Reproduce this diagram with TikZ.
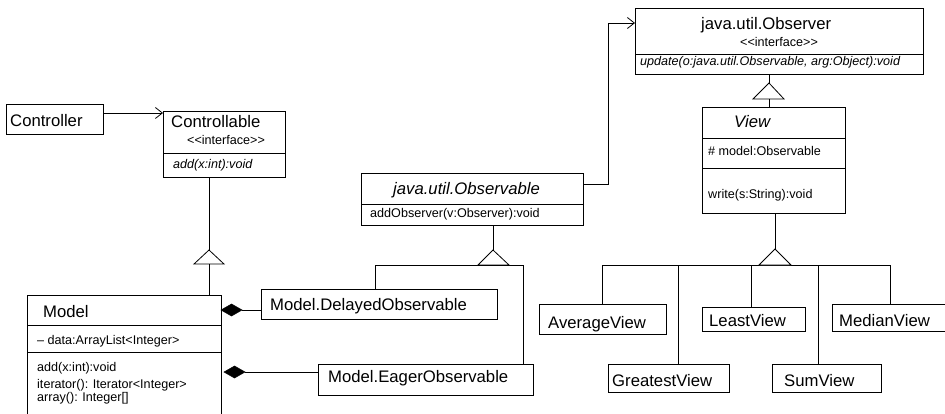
\documentclass[tikz,border=0pt]{standalone}
\usepackage{fontspec}
\setmainfont{Liberation Sans}
\usetikzlibrary{arrows.meta,calc}
\newcommand{\ltlt}{<\kern0pt<}
\newcommand{\gtgt}{>\kern0pt>}
\tikzset{
  box/.style={draw=black, line width=0.8pt, rectangle, inner sep=0pt, anchor=north west},
  big/.style={inner sep=0pt, anchor=base west, font=\fontsize{16.7}{18}\selectfont},
  bigit/.style={inner sep=0pt, anchor=base west, font=\fontsize{16.7}{18}\selectfont\itshape},
  small/.style={inner sep=0pt, anchor=base west, font=\fontsize{12.6}{14}\selectfont},
  smallit/.style={inner sep=0pt, anchor=base west, font=\fontsize{12.6}{14}\selectfont\itshape},
  conn/.style={draw=black, line width=0.8pt},
  arr/.style={conn, -{Straight Barb[length=7pt,width=11pt,line width=0.8pt]}},
  tri/.style={draw=black, line width=0.8pt, fill=white},
  dia/.style={fill=black, draw=black, line width=0.5pt},
}
\begin{document}
\begin{tikzpicture}[x=1pt,y=-1pt]
\clip (0,0) rectangle (945,414);
\fill[white] (0,0) rectangle (945,414);

% boxes
\node[box, minimum width=97, minimum height=30] (controller) at (6,104) {};
\node[box, minimum width=122, minimum height=66] (controllable) at (163,111) {};
\node[box, minimum width=194, minimum height=130] (model) at (27,295) {};
\node[box, minimum width=236, minimum height=30] (delayed) at (261,289) {};
\node[box, minimum width=215, minimum height=31] (eager) at (318,364) {};
\node[box, minimum width=222, minimum height=52] (observable) at (361,173) {};
\node[box, minimum width=288, minimum height=66] (observer) at (635,8) {};
\node[box, minimum width=143, minimum height=106] (view) at (702,107) {};
\node[box, minimum width=127, minimum height=30] (average) at (539,304) {};
\node[box, minimum width=103, minimum height=24] (least) at (702,307) {};
\node[box, minimum width=120, minimum height=27] (median) at (832,304) {};
\node[box, minimum width=121, minimum height=28] (greatest) at (608,364) {};
\node[box, minimum width=109, minimum height=28] (sum) at (772,364) {};

% dividers
\draw[conn] (controllable.west |- 0,153) -- (controllable.east |- 0,153);
\draw[conn] (model.west |- 0,325) -- (model.east |- 0,325);
\draw[conn] (model.west |- 0,352) -- (model.east |- 0,352);
\draw[conn] (observable.west |- 0,204) -- (observable.east |- 0,204);
\draw[conn] (observer.west |- 0,54) -- (observer.east |- 0,54);
\draw[conn] (view.west |- 0,138) -- (view.east |- 0,138);
\draw[conn] (view.west |- 0,168) -- (view.east |- 0,168);

% texts
\node[big] (t-controller) at (10,127) {Controller};
\node[big] (t-controllable) at (171,128) {Controllable};
\node[small] (t-ci) at (187,145) {\ltlt interface\gtgt};
\node[smallit] (t-cadd) at (173,169) {add(x:int):void};
\node[big] (t-model) at (43,317) {Model};
\node[small] (t-mdata) at (37,344) {– data:ArrayList<Integer>};
\node[small] (t-madd) at (37,371) {add(x:int):void};
\node[small] (t-miter) at (37,388) {iterator(): Iterator<Integer>};
\node[small] (t-marr) at (37,401) {array(): Integer[]};
\node[big] (t-delayed) at (270,310) {Model.DelayedObservable};
\node[big] (t-eager) at (328,382) {Model.EagerObservable};
\node[bigit] (t-observable) at (393,195) {java.util.Observable};
\node[small] (t-addobs) at (370,218) {addObserver(v:Observer):void};
\node[big] (t-observer) at (701,30) {java.util.Observer};
\node[small] (t-oi) at (740,47) {\ltlt interface\gtgt};
\node[smallit] (t-update) at (640,66) {update(o:java.util.Observable, arg:Object):void};
\node[bigit] (t-view) at (734,128) {View};
\node[small] (t-vmodel) at (708,156) {\# model:Observable};
\node[small] (t-vwrite) at (708,199) {write(s:String):void};
\node[big] (t-average) at (548,328) {AverageView};
\node[big] (t-least) at (709,326) {LeastView};
\node[big] (t-median) at (839,326) {MedianView};
\node[big] (t-greatest) at (612,386) {GreatestView};
\node[big] (t-sum) at (784,386) {SumView};

% Controller -> Controllable
\draw[arr] (controller.east |- 0,113) -- (controllable.west |- 0,113);

% Controllable <|-- Model
\coordinate (a1) at (209,250);
\coordinate (b1) at (209,264);
\draw[conn] (controllable.south -| a1) -- (a1);
\draw[tri] (a1) -- (194,264) -- (224,264) -- cycle;
\draw[conn] (b1) -- (model.north -| b1);

% compositions
\coordinate (d1) at (221,310);
\draw[dia] (d1) -- ++(10.5,-6) -- ++(10.5,6) -- ++(-10.5,6) -- cycle;
\draw[conn] ($(d1)+(21,0)$) -- (delayed.west |- d1);
\coordinate (d2) at (224,372);
\draw[dia] (d2) -- ++(10.5,-6) -- ++(10.5,6) -- ++(-10.5,6) -- cycle;
\draw[conn] ($(d2)+(21,0)$) -- (eager.west |- d2);

% Observable <|-- Delayed, Eager
\coordinate (a2) at (493,250);
\draw[conn] (observable.south -| a2) -- (a2);
\draw[tri] (a2) -- (478,265) -- (509,265) -- cycle;
\draw[conn] (delayed.north -| 375,0) -- (375,265) -- (523,265) -- (eager.north -| 523,0);

% Observable -> Observer
\draw[arr] (observable.east |- 0,184) -- (608,184) -- (608,23) -- (observer.west |- 0,23);

% Observer <|-- View
\coordinate (a3) at (769,83);
\draw[conn] (observer.south -| a3) -- (a3);
\draw[tri] (a3) -- (753,99) -- (784,99) -- cycle;
\draw[conn] (769,99) -- (view.north -| 769,0);

% View <|-- subclasses
\coordinate (a4) at (775,249);
\draw[conn] (view.south -| a4) -- (a4);
\draw[conn] (average.north -| 602,0) -- (602,265) -- (890,265) -- (median.north -| 890,0);
\draw[conn] (678,265) -- (greatest.north -| 678,0);
\draw[conn] (751,265) -- (least.north -| 751,0);
\draw[conn] (818,265) -- (sum.north -| 818,0);
\draw[tri] (a4) -- (759,265) -- (791,265) -- cycle;
\end{tikzpicture}
\end{document}
